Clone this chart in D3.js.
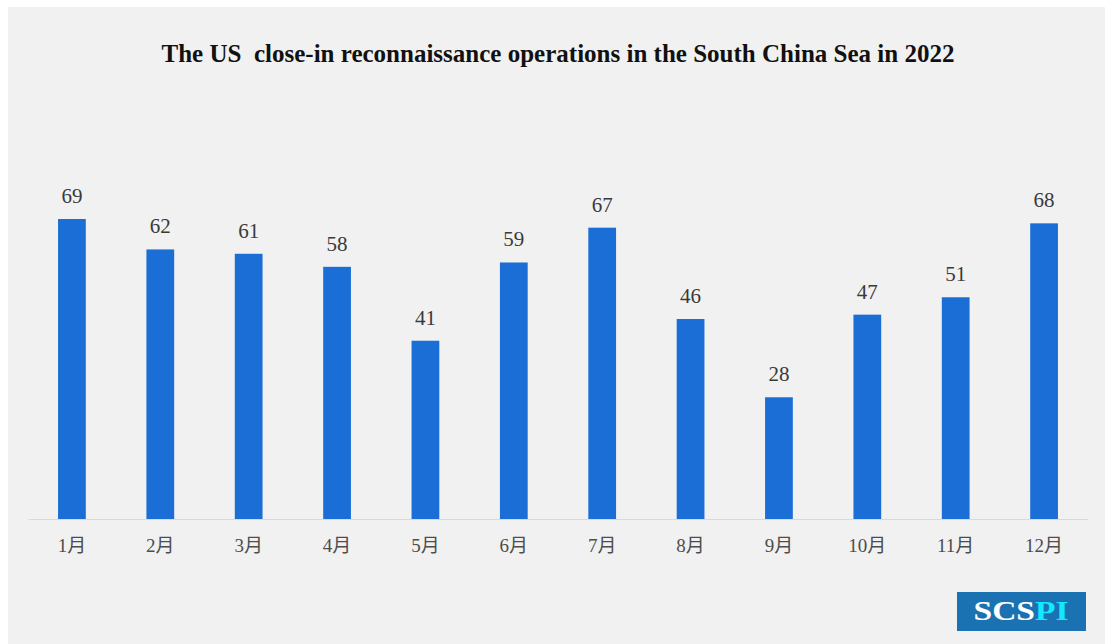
<!DOCTYPE html>
<html>
<head>
<meta charset="utf-8">
<script src="https://cdn.jsdelivr.net/npm/d3@7/dist/d3.min.js"></script>
<style>
  html, body { margin: 0; padding: 0; background: #ffffff; }
  svg { display: block; }
</style>
</head>
<body>
<svg id="chart" width="1105" height="644"></svg>
<script>
// Monthly counts of close-in reconnaissance sorties, 2022
const months = ["1月","2月","3月","4月","5月","6月","7月","8月","9月","10月","11月","12月"];
const sorties = [69, 62, 61, 58, 41, 59, 67, 46, 28, 47, 51, 68];
const chartTitle = "The US  close-in reconnaissance operations in the South China Sea in 2022";
const logoParts = [{ text: "SCS", color: "#ffffff" }, { text: "PI", color: "#12e8ff" }];

const svg = d3.select("#chart");
const W = 1105, H = 644;

// panel background
svg.append("rect").attr("x", 8).attr("y", 7).attr("width", W - 8).attr("height", H - 7)
  .attr("fill", "#f1f1f1");

// title
svg.append("text")
  .attr("x", 558).attr("y", 62)
  .attr("text-anchor", "middle")
  .attr("font-family", "'Liberation Serif', 'Times New Roman', serif")
  .attr("font-weight", "bold")
  .attr("font-size", 26)
  .attr("fill", "#111")
  .attr("textLength", 793)
  .attr("lengthAdjust", "spacingAndGlyphs")
  .style("white-space", "pre")
  .text(chartTitle);

// scales
const plot = { left: 28, right: 1088, baseline: 519, top: 219 };
const x = d3.scaleBand().domain(months).range([28, 1088]).paddingInner(0.686).paddingOuter(0.34);
const y = d3.scaleLinear().domain([0, 69]).range([plot.baseline, plot.top]);

// baseline axis
const xAxis = d3.axisBottom(x).tickSize(0).tickPadding(20);
const gx = svg.append("g").attr("transform", `translate(0,${plot.baseline})`).call(xAxis);
gx.select(".domain").attr("stroke", "#d9d9d9").attr("stroke-width", 1.2);
gx.selectAll("text")
  .attr("font-family", "'Liberation Serif', 'Noto Sans CJK SC', serif")
  .attr("font-size", 19)
  .attr("fill", "#4d4d4d");

// bars
svg.append("g").selectAll("rect").data(sorties).join("rect")
  .attr("x", (d, i) => x(months[i]))
  .attr("y", d => y(d))
  .attr("width", x.bandwidth())
  .attr("height", d => plot.baseline - y(d))
  .attr("fill", "#1a6ed6");

// value labels
svg.append("g").selectAll("text").data(sorties).join("text")
  .attr("x", (d, i) => x(months[i]) + x.bandwidth() / 2)
  .attr("y", d => y(d) - 16)
  .attr("text-anchor", "middle")
  .attr("font-family", "'Liberation Serif', 'Times New Roman', serif")
  .attr("font-size", 21)
  .attr("fill", "#3a3a3a")
  .text(d => d);

// logo badge
const logo = svg.append("g");
logo.append("rect").attr("x", 957).attr("y", 592).attr("width", 129).attr("height", 39)
  .attr("fill", "#1b72b2");
const lt = logo.append("text")
  .attr("x", 1021).attr("y", 620)
  .attr("text-anchor", "middle")
  .attr("font-family", "'Liberation Serif', 'Times New Roman', serif")
  .attr("font-weight", "bold")
  .attr("font-size", 28)
  .attr("textLength", 95)
  .attr("lengthAdjust", "spacingAndGlyphs");
lt.selectAll("tspan").data(logoParts).join("tspan")
  .attr("fill", d => d.color)
  .text(d => d.text);
</script>
</body>
</html>
